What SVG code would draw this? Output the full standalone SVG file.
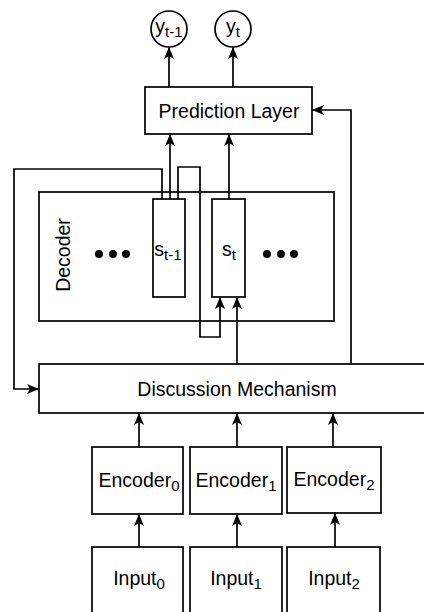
<svg xmlns="http://www.w3.org/2000/svg" width="424" height="612" viewBox="0 0 424 612">
<style>
.b{fill:#fff;stroke:#000;stroke-width:1.7}
.c{fill:none;stroke:#000;stroke-width:1.7;marker-end:url(#ar)}
text{font-family:"Liberation Sans",Arial,sans-serif;font-size:19.5px;fill:#000}
.sub{font-size:15px}
.dot{fill:#000}
</style>
<defs>
<marker id="ar" viewBox="0 0 12 10" refX="12" refY="5" markerWidth="12" markerHeight="10" markerUnits="userSpaceOnUse" orient="auto">
<path d="M0,0 L12,5 L0,10 L3,5 Z" fill="#000"/>
</marker>
</defs>
<rect width="424" height="612" fill="#fff"/>

<g id="decoder">
<rect class="b" x="39" y="192" width="295" height="129"/>
<text transform="translate(70,255) rotate(-90)" text-anchor="middle">Decoder</text>
<circle class="dot" cx="99" cy="254" r="4"/>
<circle class="dot" cx="113" cy="254" r="4"/>
<circle class="dot" cx="126" cy="254" r="4"/>
<circle class="dot" cx="267" cy="254" r="4"/>
<circle class="dot" cx="281" cy="254" r="4"/>
<circle class="dot" cx="294" cy="254" r="4"/>
</g>
<g id="s_t-1">
<rect class="b" x="153" y="199" width="32" height="98"/>
<text x="168" y="256" text-anchor="middle">s<tspan class="sub" dy="4">t-1</tspan></text>
</g>
<g id="s_t">
<rect class="b" x="212" y="199" width="33" height="98"/>
<text x="229" y="256" text-anchor="middle">s<tspan class="sub" dy="4">t</tspan></text>
</g>

<g id="prediction">
<rect class="b" x="145" y="87" width="167" height="47"/>
<text x="229" y="118" text-anchor="middle">Prediction Layer</text>
</g>
<g id="y_t-1">
<circle class="b" cx="169" cy="29" r="18"/>
<text x="169" y="33" text-anchor="middle">y<tspan class="sub" dy="4">t-1</tspan></text>
</g>
<g id="y_t">
<circle class="b" cx="233" cy="29" r="18"/>
<text x="233" y="33" text-anchor="middle">y<tspan class="sub" dy="4">t</tspan></text>
</g>

<g id="discussion">
<rect class="b" x="39" y="364" width="400" height="49"/>
<text x="237" y="396" text-anchor="middle">Discussion Mechanism</text>
</g>

<g id="encoder0">
<rect class="b" x="92" y="447" width="91" height="67"/>
<text x="139" y="487" text-anchor="middle">Encoder<tspan class="sub" dy="4">0</tspan></text>
</g>
<g id="encoder1">
<rect class="b" x="190" y="447" width="92" height="67"/>
<text x="236" y="487" text-anchor="middle">Encoder<tspan class="sub" dy="4">1</tspan></text>
</g>
<g id="encoder2">
<rect class="b" x="287" y="447" width="94" height="66"/>
<text x="334" y="486" text-anchor="middle">Encoder<tspan class="sub" dy="4">2</tspan></text>
</g>

<g id="input0">
<rect class="b" x="92" y="547" width="91" height="70"/>
<text x="139" y="585" text-anchor="middle">Input<tspan class="sub" dy="4">0</tspan></text>
</g>
<g id="input1">
<rect class="b" x="190" y="547" width="92" height="70"/>
<text x="236" y="585" text-anchor="middle">Input<tspan class="sub" dy="4">1</tspan></text>
</g>
<g id="input2">
<rect class="b" x="287" y="547" width="93" height="70"/>
<text x="334" y="585" text-anchor="middle">Input<tspan class="sub" dy="4">2</tspan></text>
</g>

<g id="connectors">
<path class="c" d="M169,87 V47"/>
<path class="c" d="M233,87 V47"/>
<path class="c" d="M170,199 V134"/>
<path class="c" d="M229,199 V134"/>
<path class="c" d="M351,364 V110 H312"/>
<path class="c" d="M162,199 V169 H14 V389 H39"/>
<path class="c" d="M178,199 V167 H200 V337 H220 V297"/>
<path class="c" d="M237,364 V297"/>
<path class="c" d="M139,447 V413"/>
<path class="c" d="M237,447 V413"/>
<path class="c" d="M333,447 V413"/>
<path class="c" d="M139,547 V514"/>
<path class="c" d="M237,547 V514"/>
<path class="c" d="M335,547 V513"/>
</g>
</svg>
